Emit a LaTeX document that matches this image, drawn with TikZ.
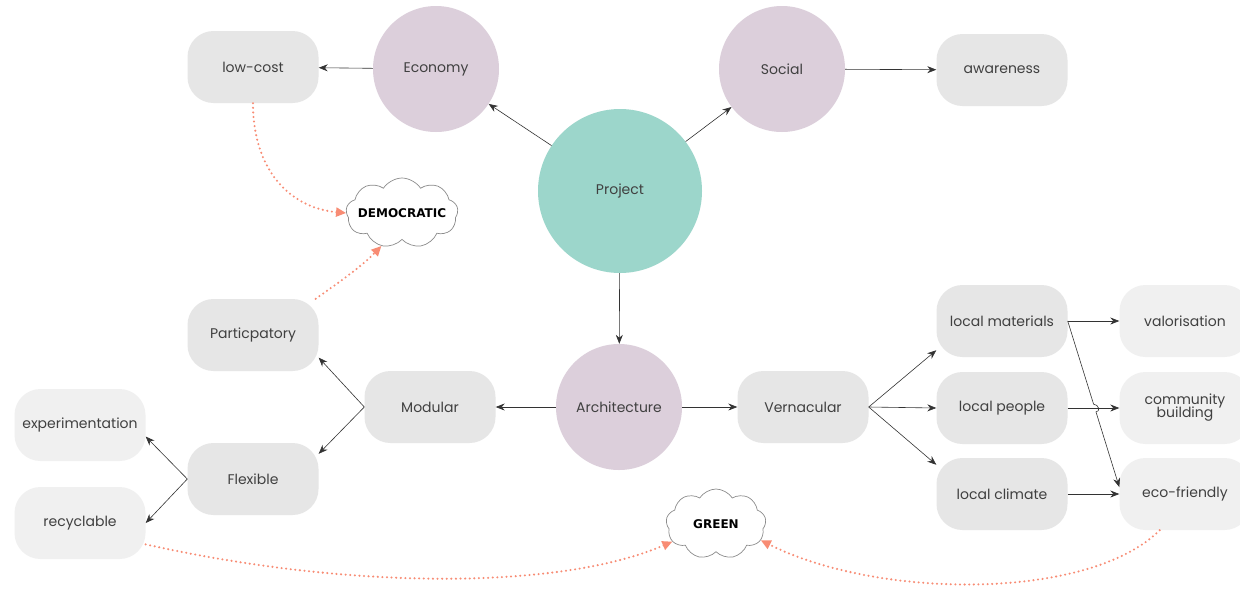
\documentclass[tikz,border=0pt]{standalone}
\usepackage{fontspec}
\setmainfont{Poppins}
\newfontfamily\cloudfont{DejaVu Sans}
\usetikzlibrary{shapes.symbols,arrows.meta,calc}
\definecolor{boxg}{HTML}{E6E6E6}
\definecolor{boxl}{HTML}{F0F0F0}
\definecolor{mauve}{HTML}{DCCFDB}
\definecolor{projteal}{HTML}{9CD6CB}
\definecolor{salmon}{HTML}{F88C74}
\definecolor{txt}{HTML}{404040}
\begin{document}
\begin{tikzpicture}[x=1pt,y=-1pt,
  lbl/.style={text=txt,font=\fontsize{14}{15}\selectfont,align=center},
  box/.style={lbl,rectangle,rounded corners=26pt,fill=boxg,minimum width=131pt,minimum height=72pt,inner sep=0pt},
  lbox/.style={box,fill=boxl},
  topic/.style={lbl,circle,fill=mauve,minimum size=126pt,inner sep=0pt},
  arr/.style={-{Stealth[length=9pt,width=7pt]},line width=0.6pt,draw=black!80},
  dotarr/.style={draw=salmon,line width=2.3pt,line cap=round,dash pattern=on 0pt off 4.6pt,-{Triangle[length=10pt,width=9pt,fill=salmon]}},
  cloudn/.style={cloud,cloud puffs=9,cloud puff arc=115,cloud ignores aspect,draw=gray!90,fill=white,line width=0.7pt,minimum width=112pt,minimum height=70pt,inner sep=0pt,font=\cloudfont\bfseries\fontsize{12}{14}\selectfont,text=black}
]
\useasboundingbox (0,0) rectangle (1240,598);
\fill[white] (0,0) rectangle (1240,598);

% main nodes
\node[lbl,circle,fill=projteal,minimum size=164pt,inner sep=0pt] (proj) at (620,191) {Project};
\node[topic] (eco) at (436,69) {Economy};
\node[topic] (soc) at (782,69) {Social};
\node[topic] (arch) at (619,407) {Architecture};

\node[box] (low) at (253,67) {low-cost};
\node[box] (awa) at (1002,70) {awareness};
\node[box] (part) at (253,335) {Particpatory};
\node[box] (mod) at (430,407) {Modular};
\node[box] (flex) at (253,479) {Flexible};
\node[lbox] (exp) at (80,425) {experimentation};
\node[lbox] (rec) at (80,523) {recyclable};
\node[box] (ver) at (803,407) {Vernacular};
\node[box] (lm) at (1002,321) {local materials};
\node[box] (lp) at (1002,408) {local people};
\node[box] (lc) at (1002,494) {local climate};
\node[lbox] (val) at (1185,321) {valorisation};
\node[lbox] (com) at (1185,408) {community\\[-2pt]building};
\node[lbox] (ecf) at (1185,494) {eco-friendly};

\node[cloudn] (dem) at (402,213) {\makebox[30pt][c]{DEMOCRATIC}};
\node[cloudn,minimum width=100pt] (grn) at (716,524) {\makebox[20pt][c]{GREEN}};

% solid connectors
\draw[arr] (proj) -- (eco);
\draw[arr] (proj) -- (soc);
\draw[arr] (proj) -- (arch);
\draw[arr] (eco) -- (low);
\draw[arr] (soc) -- (awa);
\draw[arr] (arch) -- (mod);
\draw[arr] (arch) -- (ver);
\draw[arr] (mod.west) -- (part.-19);
\draw[arr] (mod.west) -- (flex.21);
\draw[arr] (flex.west) -- (exp.-10);
\draw[arr] (flex.west) -- (rec.east);
\draw[arr] (ver.east) -- (lm.-156);
\draw[arr] (ver.east) -- (lp.west);
\draw[arr] (ver.east) -- (lc.156);
\draw[arr] (lm.east) -- (val.west);
\draw[arr] (lp.east) -- (com.west);
\draw[arr] (lc.east) -- (ecf.west);
\coordinate (jc) at (intersection of lm.east--ecf.174 and lp.east--com.west);
\coordinate (ja) at ($(jc)!4pt!(lm.east)$);
\coordinate (jb) at ($(jc)!4pt!(ecf.174)$);
\draw[arr] (lm.east) -- (ja) .. controls ($(ja)+(5,0)$) and ($(jb)+(5,0)$) .. (jb) -- (ecf.174);

% dotted connectors
\draw[dotarr] (low.south) .. controls (253,170) and (290,208) .. (dem.west);
\draw[dotarr] (part.30) .. controls (335,285) and (360,268) .. (dem.-122);
\draw[dotarr] (rec.-18) .. controls (350,590) and (560,590) .. (grn.-158);
\draw[dotarr] (ecf.-125) .. controls (1090,600) and (880,600) .. (grn.-20);
\end{tikzpicture}
\end{document}
